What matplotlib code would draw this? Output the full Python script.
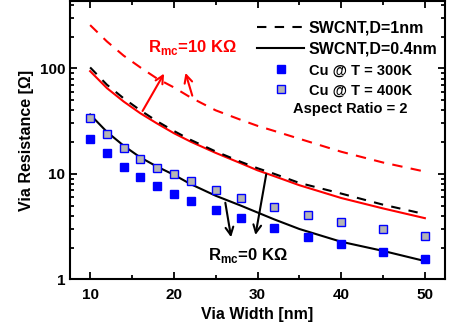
import matplotlib
matplotlib.use("Agg")
import matplotlib.pyplot as plt
from matplotlib.lines import Line2D

plt.rcParams['font.family'] = ['Liberation Sans', 'DejaVu Sans']
plt.rcParams['font.weight'] = 'bold'
plt.rcParams['mathtext.fontset'] = 'custom'
plt.rcParams['mathtext.rm'] = 'Liberation Sans:bold'
plt.rcParams['mathtext.bf'] = 'Liberation Sans:bold'

# via width [nm]
width_cu = [10, 12, 14, 16, 18, 20, 22, 25, 28, 32, 36, 40, 45, 50]
cu_300k = [21.5, 15.6, 11.7, 9.27, 7.6, 6.43, 5.52, 4.54, 3.79, 3.08, 2.53, 2.16, 1.83, 1.57]
cu_400k = [34, 23.8, 17.7, 13.9, 11.4, 9.9, 8.55, 7.02, 5.94, 4.88, 4.07, 3.47, 2.98, 2.57]

width_cnt = [10, 12, 14, 16, 18, 20, 22, 25, 28, 30, 32, 35, 40, 45, 50]
d1_rmc0 = [102, 70, 52, 40, 31.5, 25.5, 21, 16.3, 13, 11.3, 10.0, 8.2, 6.5, 5.1, 4.15]
d04_rmc0 = [36.5, 25, 18.5, 14.3, 11.7, 9.8, 8.0, 6.2, 5.0, 4.3, 3.7, 3.0, 2.27, 1.86, 1.49]
d04_rmc10k = [94, 65, 48.5, 37.5, 30, 24.3, 20.2, 15.8, 12.6, 10.8, 9.5, 7.8, 5.9, 4.7, 3.8]
d1_rmc10k = [257, 180, 132, 102, 80, 66, 53, 40, 32.5, 28.5, 25.5, 21.5, 16.2, 12.8, 10.5]

fig = plt.figure(figsize=(4.49, 3.29), dpi=100)
ax = fig.add_axes([0.156, 0.151, 0.835, 0.846])

ax.plot(width_cnt, d1_rmc10k, color='red', lw=1.5, dashes=(5, 4))
ax.plot(width_cnt, d04_rmc10k, color='red', lw=1.5)
ax.plot(width_cnt, d1_rmc0, color='black', lw=1.5, dashes=(4.5, 4))
ax.plot(width_cnt, d04_rmc0, color='black', lw=1.5)
ax.plot(width_cu, cu_300k, 's', color='blue', ms=5.5, mec='blue', ls='none')
ax.plot(width_cu, cu_400k, 's', mfc='#b4b4b4', mec='blue', mew=1.0, ms=5.5, ls='none')

ax.set_yscale('log')
ax.set_xlim(7.6, 52.4)
ax.set_ylim(1, 435)
ax.set_xticks([10, 20, 30, 40, 50])
ax.set_xticks([15, 25, 35, 45], minor=True)
ax.set_yticks([1, 10, 100])
ax.set_yticklabels(['1', '10', '100'])

for s in ax.spines.values():
    s.set_linewidth(1.5)
ax.tick_params(which='both', direction='in', top=True, right=True, width=1.3, labelsize=11)
ax.tick_params(which='major', length=5)
ax.tick_params(which='minor', length=3)
ax.tick_params(axis='x', pad=6)

ax.set_xlabel('Via Width [nm]', fontsize=11.5, fontweight='bold', labelpad=4)
ax.set_ylabel('Via Resistance [Ω]', fontsize=11.5, fontweight='bold', labelpad=4)

# arrows and labels
red_arrow = dict(arrowstyle='->', color='red', lw=1.5, mutation_scale=14)
ax.annotate('', xy=(19.0, 94), xytext=(16.1, 37.4), arrowprops=red_arrow)
ax.annotate('', xy=(21.3, 96), xytext=(22.3, 52), arrowprops=red_arrow)
ax.text(16.9, 159, r'R$_{\mathbf{mc}}$=10 KΩ', color='red', fontsize=12,
        fontweight='bold', ha='left', va='center')

black_arrow = dict(arrowstyle='->', color='black', lw=1.5, mutation_scale=14)
ax.annotate('', xy=(26.9, 2.36), xytext=(26.1, 5.65), arrowprops=black_arrow)
ax.annotate('', xy=(29.7, 2.48), xytext=(31.1, 10.5), arrowprops=black_arrow)
ax.text(24.1, 1.7, r'R$_{\mathbf{mc}}$=0 KΩ', color='black', fontsize=12,
        fontweight='bold', ha='left', va='center')

handles = [
    Line2D([], [], color='black', lw=1.5, dashes=(4.5, 4)),
    Line2D([], [], color='black', lw=1.5),
    Line2D([], [], marker='s', color='blue', ms=5.5, ls='none'),
    Line2D([], [], marker='s', mfc='#b4b4b4', mec='blue', mew=1.0, ms=5.5, ls='none'),
]
labels = ['SWCNT,D=1nm', 'SWCNT,D=0.4nm', 'Cu @ T = 300K', 'Cu @ T = 400K']
leg = ax.legend(handles, labels, loc='upper right', bbox_to_anchor=(1.005, 0.965),
                frameon=False, fontsize=11.5, handlelength=2.9, handletextpad=0.3,
                labelspacing=0.4, borderaxespad=0.2, numpoints=1)
for t in leg.get_texts()[2:]:
    t.set_fontsize(10.5)
ax.text(0.9, 0.612, 'Aspect Ratio = 2', transform=ax.transAxes, fontsize=10.5,
        fontweight='bold', ha='right', va='center')

fig.savefig('out.png', dpi=100)
